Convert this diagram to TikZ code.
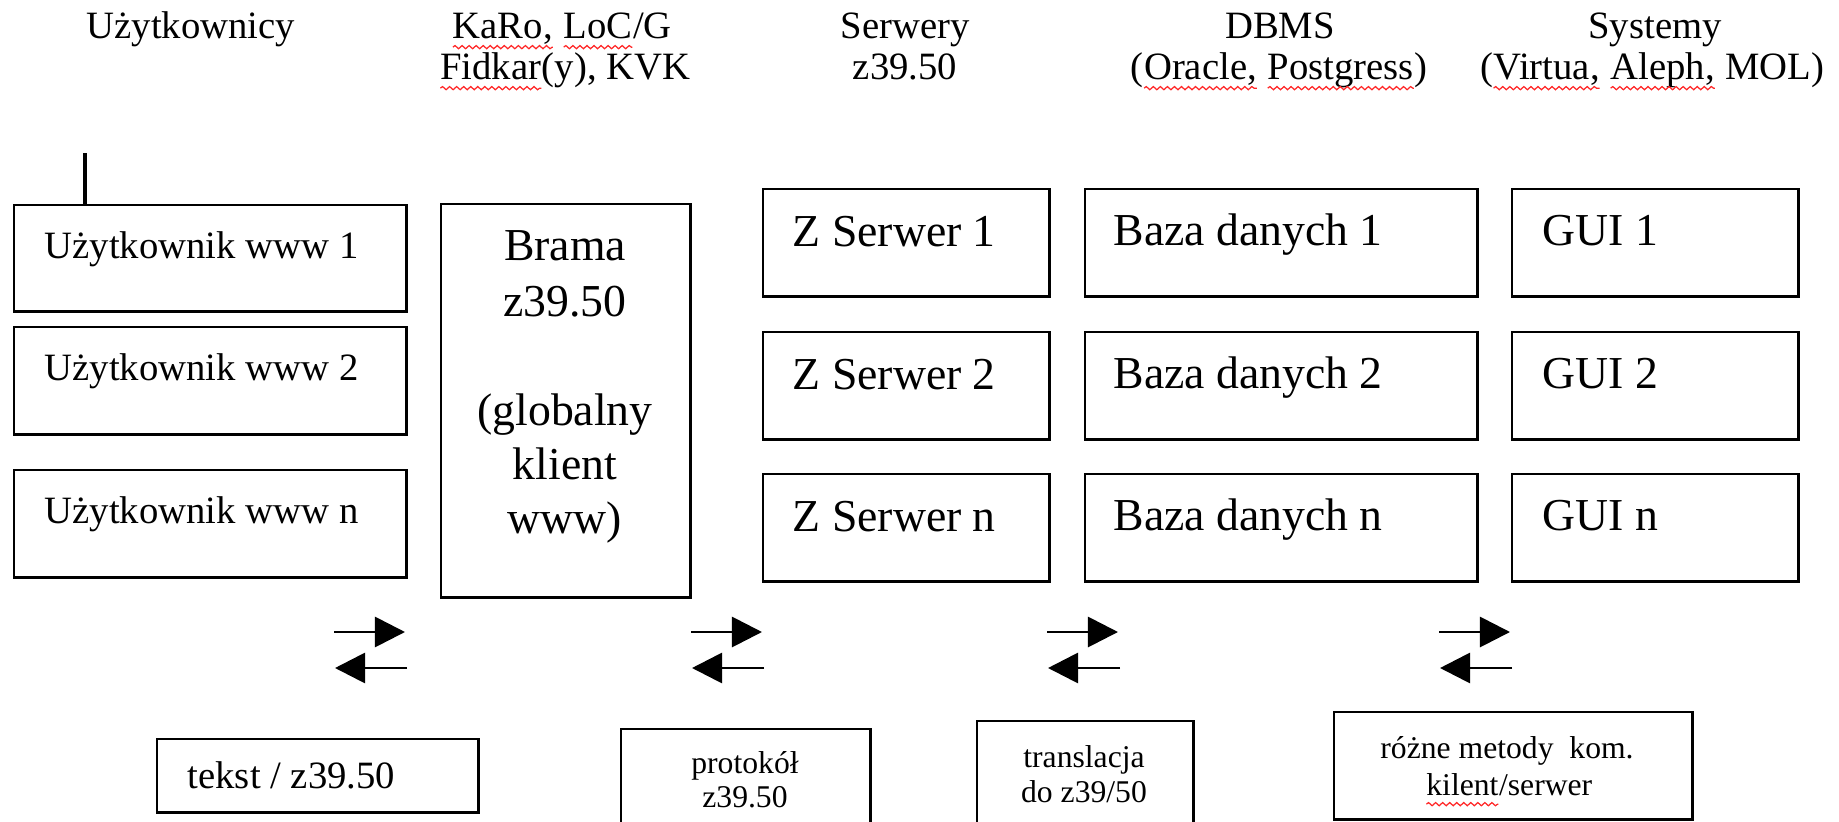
\documentclass[tikz,border=0pt]{standalone}
\usepackage{fontspec}
\setmainfont{Liberation Serif}
\usetikzlibrary{arrows.meta,decorations.pathmorphing}

% red wavy line of the spell checker
\newcommand\spellwave[1]{\tikz[baseline=(w.base)]{%
  \node[inner sep=0pt, outer sep=0pt, anchor=base west] (w) at (0pt,0pt) {#1};
  \draw[red!85, line width=0.35pt, decorate, decoration={snake, amplitude=0.45pt, segment length=2pt}]
    ([yshift=-2.6pt]w.base west) -- ([yshift=-2.6pt]w.base east);}}

\begin{document}
\begin{tikzpicture}[x=0.01cm, y=-0.01cm,
  box/.style={draw, line width=0.7pt, inner sep=0pt, anchor=north west},
  hd/.style={font=\fontsize{11}{13}\selectfont, anchor=base, inner sep=0pt},
  lbl/.style={font=\fontsize{11}{13}\selectfont, anchor=base west, inner sep=0pt},
  big/.style={font=\fontsize{13}{15}\selectfont, anchor=base west, inner sep=0pt},
  bigc/.style={font=\fontsize{13}{15}\selectfont, anchor=base, inner sep=0pt},
  sm/.style={font=\fontsize{9}{11}\selectfont, anchor=base, inner sep=0pt},
  arr/.style={line width=0.8pt, -{Triangle[length=0.3cm, width=0.3cm]}}]
\useasboundingbox (0,0) rectangle (1839,821);
\clip (0,0) rectangle (1839,821);

% column titles
\node[hd] (h1) at (191,38) {Użytkownicy};
\node[hd] (h2a) at (562,38) {\spellwave{KaRo,} \spellwave{LoC}/G};
\node[hd] (h2b) at (565,79) {\spellwave{Fidkar}(y), KVK};
\node[hd] (h3a) at (905,38) {Serwery};
\node[hd] (h3b) at (905,79) {z39.50};
\node[hd] (h4a) at (1280,38) {DBMS};
\node[hd] (h4b) at (1279,79) {(\spellwave{Oracle,} \spellwave{Postgress})};
\node[hd] (h5a) at (1655,38) {Systemy};
\node[hd] (h5b) at (1652,79) {(\spellwave{Virtua,} \spellwave{Aleph,} MOL)};

% first column, users
\node[box, minimum width=3.92cm, minimum height=1.06cm] (user1) at (13,204) {};
\node[box, minimum width=3.92cm, minimum height=1.07cm] (user2) at (13,326) {};
\node[box, minimum width=3.92cm, minimum height=1.07cm] (user3) at (13,469) {};
\node[lbl] (user1t) at (44,258) {Użytkownik www 1};
\node[lbl] (user2t) at (44,380) {Użytkownik www 2};
\node[lbl] (user3t) at (44,523) {Użytkownik www n};
\coordinate (tick) at (85,153);
\draw[line width=1pt] (tick) -- (tick |- user1.north);

% second column, gateway
\node[box, minimum width=2.49cm, minimum height=3.93cm] (brama) at (440,203) {};
\node[bigc] (brama1) at (565,260) {Brama};
\node[bigc] (brama2) at (565,316) {z39.50};
\node[bigc] (brama3) at (565,425) {(globalny};
\node[bigc] (brama4) at (565,479) {klient};
\node[bigc] (brama5) at (565,533) {www)};

% third, fourth and fifth column, one row every 143 units
\foreach \y/\n [count=\i] in {188/1,331/2,473/n} {
  \node[box, minimum width=2.86cm, minimum height=1.07cm] (zs\i) at (762,\y) {};
  \node[box, minimum width=3.92cm, minimum height=1.07cm] (db\i) at (1084,\y) {};
  \node[box, minimum width=2.86cm, minimum height=1.07cm] (gui\i) at (1511,\y) {};
  \node[big] (zs\i t) at (792,\y+58) {Z Serwer \n};
  \node[big] (db\i t) at (1113,\y+57) {Baza danych \n};
  \node[big] (gui\i t) at (1542,\y+57) {GUI \n};
}

% arrows between the columns
\foreach \x [count=\i] in {334,691,1047,1439} {
  \coordinate (ra\i) at (\x,632);
  \coordinate (rb\i) at (\x+71,632);
  \coordinate (la\i) at (\x+73,668);
  \coordinate (lb\i) at (\x+1,668);
  \draw[arr] (ra\i) -- (rb\i);
  \draw[arr] (la\i) -- (lb\i);
}

% protocols
\node[box, minimum width=3.21cm, minimum height=0.73cm] (tekst) at (156,738) {};
\node[lbl] (tekstt) at (187,788) {tekst / z39.50};
\node[box, minimum width=2.49cm, minimum height=1.3cm] (prot) at (620,728) {};
\node[sm] (prot1) at (745,773) {protokół};
\node[sm] (prot2) at (745,807) {z39.50};
\node[box, minimum width=2.16cm, minimum height=1.3cm] (trans) at (976,720) {};
\node[sm] (trans1) at (1084,767) {translacja};
\node[sm] (trans2) at (1084,802) {do z39/50};
\node[box, minimum width=3.58cm, minimum height=1.07cm] (metody) at (1333,711) {};
\node[sm] (metody1) at (1507,758) {różne metody\ \ kom.};
\node[sm] (metody2) at (1509,795) {\spellwave{kilent}/serwer};

\end{tikzpicture}
\end{document}
